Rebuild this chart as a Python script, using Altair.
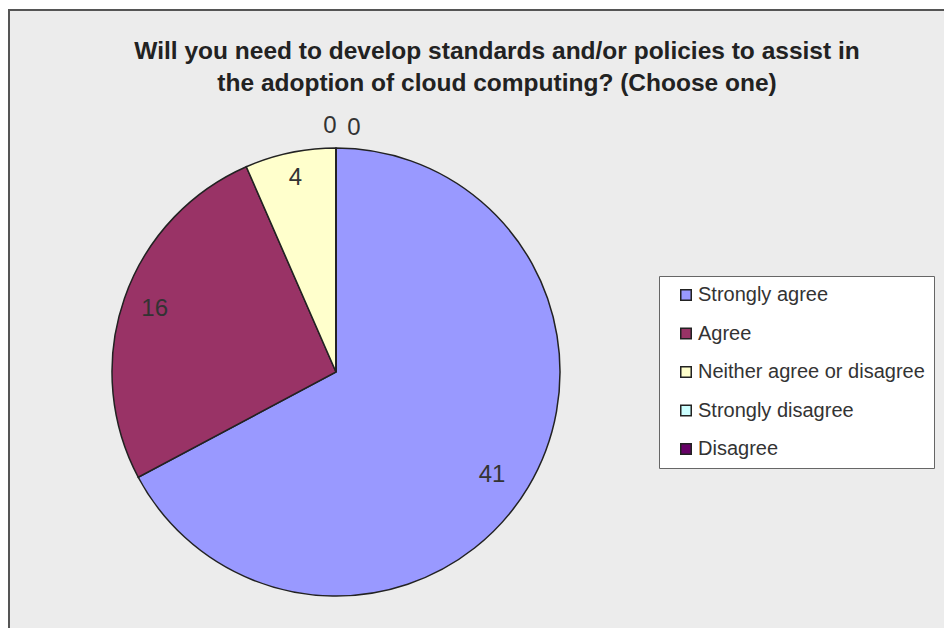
import altair as alt
import pandas as pd

answers = ["Strongly agree", "Agree", "Neither agree or disagree", "Strongly disagree", "Disagree"]
counts = [41, 16, 4, 0, 0]
colors = ["#9999FF", "#993366", "#FFFFCC", "#CCFFFF", "#660066"]
label_radius = [182, 192, 198, 246, 244]
label_dx = [0, 0, 0, -6, 18]
label_dy = [9, 0, 0, 0, 0]
title_lines = ["Will you need to develop standards and/or policies to assist in",
               "the adoption of cloud computing? (Choose one)"]

df = pd.DataFrame({
    "answer": answers,
    "value": counts,
    "idx": list(range(len(answers))),
    "r": label_radius,
    "dx": label_dx,
    "dy": label_dy,
})

FONT = "Liberation Sans"

panel = alt.Chart(pd.DataFrame({"a": [0]})).mark_rect(
    fill="#ECECEC", stroke="#555555", strokeWidth=2
).encode(x=alt.value(9), y=alt.value(10), x2=alt.value(990), y2=alt.value(680))

base = alt.Chart(df)

pie = base.mark_arc(radius=224, stroke="#222222", strokeWidth=1.5).encode(
    theta=alt.Theta("value:Q", stack=True),
    order=alt.Order("idx:Q"),
    color=alt.Color(
        "answer:N",
        sort=answers,
        scale=alt.Scale(domain=answers, range=colors),
        legend=alt.Legend(
            title=None,
            orient="none",
            legendX=659,
            legendY=276,
            fillColor="white",
            strokeColor="#666666",
            padding=9,
            rowPadding=18.5,
            symbolType="square",
            symbolSize=110,
            symbolStrokeColor="#222222",
            symbolStrokeWidth=1.5,
            symbolOffset=8,
            labelOffset=2,
            labelFont=FONT,
            labelFontSize=20,
            labelColor="#333333",
            labelLimit=0,
        ),
    ),
    x=alt.value(336),
    y=alt.value(372),
)

labels = base.transform_window(
    cum="sum(value)", sort=[alt.SortField("idx")], frame=[None, 0]
).transform_joinaggregate(
    total="sum(value)"
).transform_calculate(
    ang="(datum.cum - datum.value / 2) / datum.total * 2 * PI"
).mark_text(font=FONT, fontSize=24, color="#333333").encode(
    theta=alt.Theta("ang:Q", scale=None),
    radius=alt.Radius("r:Q", scale=None),
    xOffset=alt.XOffset("dx:Q", scale=None),
    yOffset=alt.YOffset("dy:Q", scale=None),
    text=alt.Text("value:Q"),
    x=alt.value(336),
    y=alt.value(372),
)

title_df = pd.DataFrame({"line": title_lines, "row": [0, 1]})
title = alt.Chart(title_df).mark_text(
    font=FONT, fontSize=24.5, fontWeight="bold", color="#222222", baseline="middle"
).encode(
    text="line:N",
    x=alt.value(497),
    y=alt.Y("row:Q", scale=alt.Scale(domain=[0, 1], range=[52, 84]), axis=None),
)

chart = alt.layer(panel, pie, labels, title).properties(
    width=944, height=628, autosize=alt.AutoSizeParams(type="none"), padding=0,
    background="white",
).configure_view(stroke=None)

chart.save("out.html", embed_options={"renderer": "svg", "actions": False})
